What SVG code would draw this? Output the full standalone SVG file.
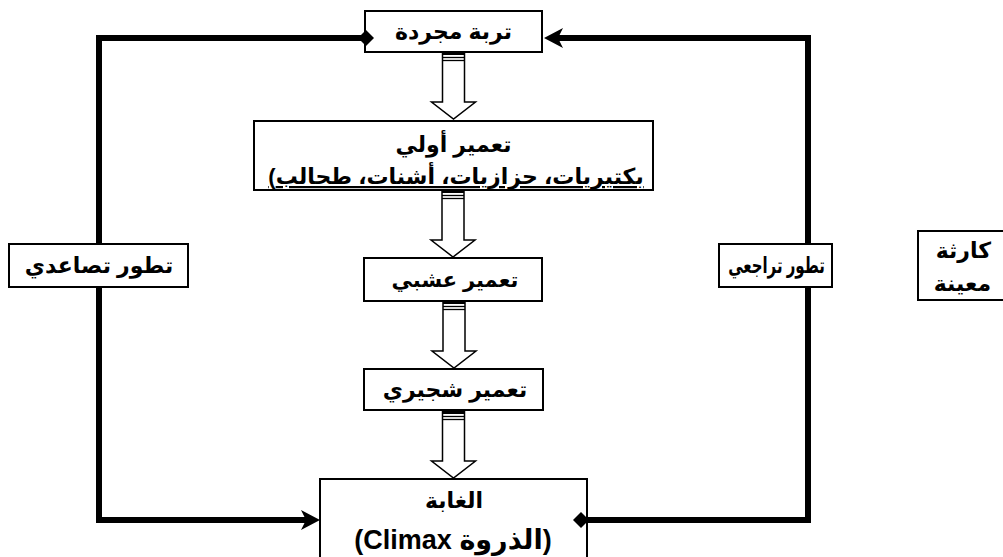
<svg xmlns="http://www.w3.org/2000/svg" xmlns:xlink="http://www.w3.org/1999/xlink" width="1003" height="557" viewBox="0 0 1003 557">
<style>
.box{fill:#fff;stroke:#000;stroke-width:2}
.t{font-family:"Liberation Sans","DejaVu Sans",sans-serif;font-weight:bold;font-size:22px;fill:#000}
.c{text-anchor:middle}
.e{text-anchor:end}
.conn{fill:none;stroke:#000;stroke-width:6;stroke-linejoin:miter}
.blk{fill:#fff;stroke:#000;stroke-width:1.5}
</style>
<defs>
<g id="blockArrow">
<path class="blk" d="M-11,0 V50 H-22 L0,67 L22,50 H11 V0 Z"/>
<rect x="-11" y="0" width="22" height="3" fill="#000"/>
<line x1="-11" y1="5.5" x2="11" y2="5.5" stroke="#000" stroke-width="1.3"/>
<line x1="-11" y1="8.5" x2="11" y2="8.5" stroke="#000" stroke-width="1.3"/>
</g>
<marker id="stealth" markerUnits="userSpaceOnUse" markerWidth="26" markerHeight="26" viewBox="-2 -12 26 24" refX="5" refY="0" orient="auto">
<path d="M0,-10 L19,0 L0,10 L5,0 Z" fill="#000"/>
</marker>
<marker id="diamond" markerUnits="userSpaceOnUse" markerWidth="20" markerHeight="20" viewBox="-10 -10 20 20" refX="0" refY="0" orient="auto">
<path d="M-8,0 L0,-8 L8,0 L0,8 Z" fill="#000"/>
</marker>
</defs>

<g id="node-bare-soil">
<rect class="box" x="365" y="11" width="177" height="41"/>
<text class="t c" x="453.5" y="39">تربة مجردة</text>
</g>

<g id="node-primary">
<rect class="box" x="254" y="121" width="399" height="69"/>
<text class="t c" x="453.5" y="152">تعمير أولي</text>
<text class="t c" x="456" y="184" direction="ltr" text-decoration="underline">&#x200E;(بكتيريات، حزازيات، أشنات، طحالب</text>
</g>

<g id="node-herbaceous">
<rect class="box" x="364" y="258" width="178" height="43"/>
<text class="t c" x="455" y="287" style="font-size:21px">تعمير عشبي</text>
</g>

<g id="node-shrub">
<rect class="box" x="364" y="369" width="179" height="41"/>
<text class="t c" x="455" y="397">تعمير شجيري</text>
</g>

<g id="node-forest">
<rect class="box" x="320" y="479" width="267" height="95"/>
<text class="t c" x="454" y="508">الغابة</text>
<text class="t c" x="453" y="549" style="font-size:27px" direction="rtl">(الذروة Climax)</text>
</g>

<g id="connectors">
<path class="conn" d="M366,38 H99 V520 H306" marker-start="url(#diamond)" marker-end="url(#stealth)"/>
<path class="conn" d="M581,520 H808 V38 H558" marker-start="url(#diamond)" marker-end="url(#stealth)"/>
<use xlink:href="#blockArrow" href="#blockArrow" transform="translate(453.5,52)"/>
<use xlink:href="#blockArrow" href="#blockArrow" transform="translate(453,190)"/>
<use xlink:href="#blockArrow" href="#blockArrow" transform="translate(454,301)"/>
<use xlink:href="#blockArrow" href="#blockArrow" transform="translate(453.5,411)"/>
</g>

<g id="label-progressive">
<rect class="box" x="9" y="244" width="179" height="43"/>
<text class="t c" x="99" y="273">تطور تصاعدي</text>
</g>

<g id="label-regressive">
<rect class="box" x="719" y="244" width="113" height="43"/>
<text class="t c" x="0" y="0" transform="translate(776.5,273) scale(0.68,1)">تطور تراجعي</text>
</g>

<g id="label-catastrophe">
<rect class="box" x="918" y="231" width="100" height="69"/>
<text class="t e" x="991" y="258">كارثة</text>
<text class="t e" x="991" y="291">معينة</text>
</g>
</svg>
